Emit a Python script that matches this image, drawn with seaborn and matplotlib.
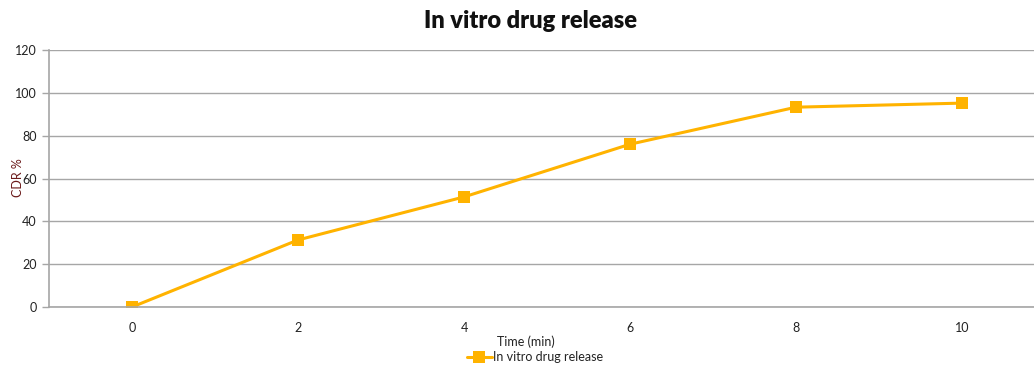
import matplotlib
matplotlib.use("Agg")
import matplotlib.pyplot as plt
import seaborn as sns
import pandas as pd
import numpy as np

# Cumulative drug release over time
time_min = [0, 2, 4, 6, 8, 10]
cdr_pct = [0, 31.3, 51.4, 76.0, 93.3, 95.2]
series_name = "In vitro drug release"

df = pd.DataFrame({"Time (min)": time_min, "CDR %": cdr_pct})

sns.set_theme(style="white")
plt.rcParams["font.family"] = ["Lato", "DejaVu Sans"]

W, H = 1034, 367
fig = plt.figure(figsize=(W / 100, H / 100), dpi=100)
# plot area extends slightly past the right edge of the canvas
ax = fig.add_axes([49 / W, 1 - 307 / H, 996 / W, 257 / H])

color = "#FFB300"
sns.lineplot(data=df, x="Time (min)", y="CDR %", ax=ax, color=color,
             linewidth=2.2, marker="s", markersize=8.5, markeredgewidth=0,
             label=series_name, legend=False)

ax.set_xlim(-1, 11)
ax.set_ylim(0, 120)
ax.set_yticks(np.arange(0, 121, 20))
ax.yaxis.grid(True, color="#a6a6a6", linewidth=1)
ax.set_axisbelow(True)

# category labels without marks, boundary tick marks between categories
ax.set_xticks(time_min)
ax.set_xticklabels([str(t) for t in time_min])
ax.set_xticks(np.arange(-1, 12, 2), minor=True)
ax.tick_params(axis="x", which="major", length=0, pad=11, labelsize=9, labelcolor="#222222")
ax.tick_params(axis="x", which="minor", length=5, width=1, color="#a6a6a6", direction="out")
ax.tick_params(axis="y", which="major", length=5, width=1, color="#a6a6a6", direction="out",
               left=True, pad=4, labelsize=9, labelcolor="#222222")

for side in ["top", "right"]:
    ax.spines[side].set_visible(False)
for side in ["left", "bottom"]:
    ax.spines[side].set_color("#a6a6a6")
    ax.spines[side].set_linewidth(1.2)

ax.set_xlabel("")
ax.set_ylabel("")
fig.text(18 / W, 1 - 178 / H, "CDR %", rotation=90, ha="center", va="center",
         fontsize=9, color="#6b1a1a")
fig.text(526 / W, 1 - 342 / H, "Time (min)", ha="center", va="center",
         fontsize=9, color="#222222")
fig.text(531 / W, 1 - 21 / H, "In vitro drug release", ha="center", va="center",
         fontsize=17, fontweight="heavy", color="#111111")

handles, labels = ax.get_legend_handles_labels()
leg = fig.legend(handles, labels, loc="center", bbox_to_anchor=(535 / W, 1 - 357 / H),
                 frameon=False, fontsize=9, handlelength=2.0, handletextpad=0.15,
                 borderpad=0, borderaxespad=0)
for t in leg.get_texts():
    t.set_color("#222222")

fig.savefig("out.png", dpi=100)
